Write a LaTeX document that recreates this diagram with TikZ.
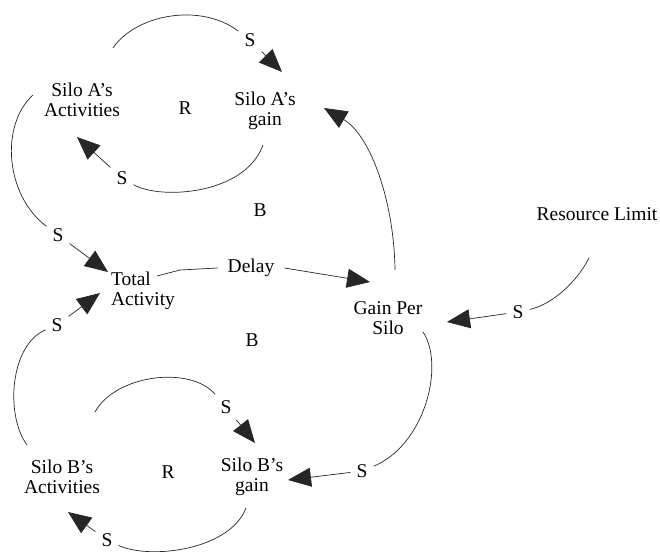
\documentclass[tikz,border=0pt]{standalone}
\usepackage{fontspec}
\newfontfamily\diagfont{Liberation Serif}[Ligatures=TeX]
\usetikzlibrary{arrows.meta}
\begin{document}
\begin{tikzpicture}[x=1pt,y=-1pt,
  every node/.style={font=\diagfont\fontsize{19.5}{20.5}\selectfont},
  var/.style={align=center,inner sep=2pt},
  sign/.style={inner sep=6pt},
  link/.style={line width=0.7pt,draw=black!85},
  tip/.style={link,-{Triangle[length=23pt,width=19pt]}}]
\useasboundingbox (0,0) rectangle (660,551);

% variables
\node[var] (aAct)  at (82,100)  {Silo A’s\\Activities};
\node[var] (aGain) at (265,111) {Silo A’s\\gain};
\node[var,align=left] (total) at (143,291) {Total\\Activity};
\node[var,inner xsep=10pt] (delay) at (251,268) {Delay};
\node[var] (gps)   at (388,318) {Gain Per\\Silo};
\node[var] (res)   at (597,214) {Resource Limit};
\node[var] (bAct)  at (62,477)  {Silo B’s\\Activities};
\node[var] (bGain) at (252,477) {Silo B’s\\gain};

% loop markers
\node (rA) at (185,108) {R};
\node (bUp) at (260,210) {B};
\node (bLo) at (252,340) {B};
\node (rB) at (168,472) {R};

% polarity labels
\node[sign] (s1)  at (250,40)  {S};
\node[sign] (s2)  at (122,178) {S};
\node[sign] (s3)  at (58,235)  {S};
\node[sign] (s6)  at (518,312) {S};
\node[sign] (s7)  at (362,471) {S};
\node[sign] (s8)  at (57,325)  {S};
\node[sign] (s9)  at (226,407) {S};
\node[sign] (s10) at (107,540) {S};

% link end points
\coordinate (c1) at (113,48);   \coordinate (t1) at (282,72);
\coordinate (c2) at (263,145);  \coordinate (t2) at (77,137);
\coordinate (c3) at (33,95);    \coordinate (t3) at (108,272);
\coordinate (c4) at (157,276);  \coordinate (k4) at (180,270);
\coordinate (t4) at (370,282);
\coordinate (c5) at (395,270);  \coordinate (t5) at (324,108);
\coordinate (c6) at (589,258);  \coordinate (t6) at (447,322);
\coordinate (c7) at (423,332);  \coordinate (t7) at (288,480);
\coordinate (c8) at (27,445);   \coordinate (t8) at (100,293);
\coordinate (c9) at (95,412);   \coordinate (t9) at (255,443);
\coordinate (c10) at (246,508); \coordinate (t10) at (68,512);

% Silo A reinforcing loop
\draw[link] (c1) .. controls (135,15) and (200,2) .. (s1);
\draw[tip] (s1) -- (t1);
\draw[link] (c2) .. controls (245,195) and (160,200) .. (s2);
\draw[tip] (s2) -- (t2);

% activities into total
\draw[link] (c3) .. controls (0,125) and (5,195) .. (s3);
\draw[tip] (s3) -- (t3);
\draw[link] (c8) .. controls (5,415) and (10,345) .. (s8);
\draw[tip] (s8) -- (t8);

% total through delay to gain per silo
\draw[link] (c4) -- (k4) -- (delay.west);
\draw[tip] (delay.east) -- (t4);

% gain per silo feedback
\draw[tip] (c5) .. controls (394,200) and (370,135) .. (t5);
\draw[link] (c7) .. controls (445,365) and (425,445) .. (s7);
\draw[tip] (s7) -- (t7);

% resource limit
\draw[link] (c6) .. controls (575,285) and (550,305) .. (s6);
\draw[tip] (s6) -- (t6);

% Silo B reinforcing loop
\draw[link] (c9) .. controls (115,375) and (190,365) .. (s9);
\draw[tip] (s9) -- (t9);
\draw[link] (c10) .. controls (230,550) and (150,560) .. (s10);
\draw[tip] (s10) -- (t10);
\end{tikzpicture}
\end{document}
